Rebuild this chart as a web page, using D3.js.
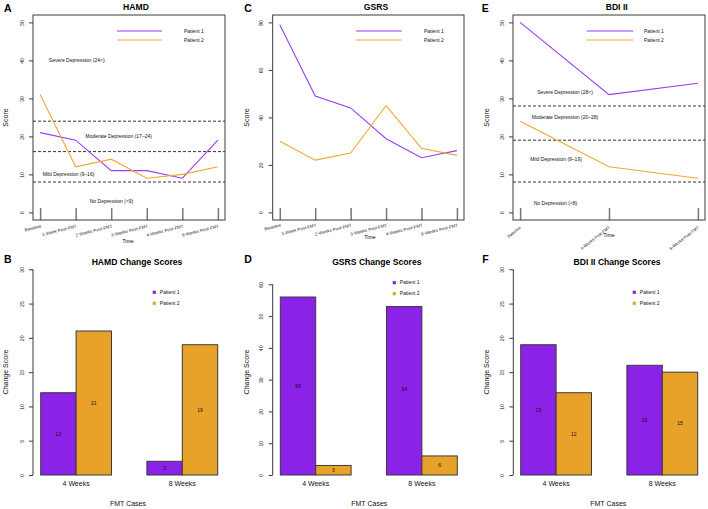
<!DOCTYPE html>
<html><head><meta charset="utf-8">
<script src="https://cdn.jsdelivr.net/npm/d3@7"></script>
<style>
html,body{margin:0;padding:0;background:#fff;}
svg{display:block;font-family:"Liberation Sans",Arial,Helvetica,sans-serif;}
</style></head>
<body><svg id="c" width="708" height="509"></svg>
<script>
// ---------- DATA ----------
const times6 = ["Baseline","1-Week Post-FMT","2-Weeks Post-FMT","3-Weeks Post-FMT","4-Weeks Post-FMT","8-Weeks Post-FMT"];
const times3 = ["Baseline","4-Weeks Post-FMT","8-Weeks Post-FMT"];
const patients = ["Patient 1","Patient 2"];

const hamdP1 = [21,19,11,11,9,19];
const hamdP2 = [31,12,14,9,10,12];
const hamdTicks = [0,10,20,30,40,50];
const hamdCutoffs = [24,16,8];
const hamdBands = ["Severe Depression (24<)","Moderate Depression (17\u201324)","Mild Depression (9\u201316)","No Depression (<9)"];
const hamdBandAt = [40,20,10,3];

const gsrsP1 = [79,49,44,31,23,26];
const gsrsP2 = [30,22,25,45,27,24];
const gsrsTicks = [0,20,40,60,80];

const bdiP1 = [50,31,34];
const bdiP2 = [24,12,9];
const bdiTicks = [0,10,20,30,40,50];
const bdiCutoffs = [28,19,8];
const bdiBands = ["Severe Depression (28<)","Moderate Depression (20\u201328)","Mild Depression (9\u201319)","No Depression (<8)"];
const bdiBandAt = [31.5,25,14,2.5];

const weeks = ["4 Weeks","8 Weeks"];
const hamdChangeP1 = [12,2];
const hamdChangeP2 = [21,19];
const gsrsChangeP1 = [56,53];
const gsrsChangeP2 = [3,6];
const gsrsChangeLabelP1 = [56,54];
const bdiChangeP1 = [19,16];
const bdiChangeP2 = [12,15];
const change30Ticks = [0,5,10,15,20,25,30];
const change60Ticks = [0,10,20,30,40,50,60];

// ---------- STYLE ----------
const lineCol = ["#9a3cf0","#f0a830"];
const barCol = ["#8b22e8","#e8a22a"];
const dark = "#3a3a3a";
const svg = d3.select("#c");

function styleYAxis(g, off){
  g.select(".domain").remove();
  g.selectAll(".tick line").attr("stroke", dark);
  g.selectAll(".tick text")
    .attr("x",0).attr("y",off).attr("dy",0)
    .attr("text-anchor","middle").attr("transform","rotate(-90)")
    .attr("font-size",5.2).attr("fill","#222");
}

function linePanel(o){
  const g = svg.append("g");
  const x = d3.scaleLinear().domain([-o.pad, o.cats.length-1+o.pad]).range([o.x0,o.x1]);
  const y = d3.scaleLinear().domain([0,o.ymax]).range([212.4, 212.4 - o.ymax*o.unit]);
  // y axis
  const ya = g.append("g").attr("transform",`translate(${o.x0},0)`)
    .call(d3.axisLeft(y).tickValues(o.ticks).tickSize(4).tickFormat(d3.format("d")));
  styleYAxis(ya,-9.4);
  // x axis: inward ticks
  const xa = g.append("g").attr("transform",`translate(0,220)`)
    .call(d3.axisBottom(x).tickValues(d3.range(o.cats.length)).tickSize(-12).tickFormat(i=>o.cats[i]));
  xa.select(".domain").remove();
  xa.selectAll(".tick line").attr("stroke","#777").attr("stroke-width",1.5);
  xa.selectAll(".tick text")
    .attr("x",0).attr("y",0).attr("dy",0)
    .attr("text-anchor","end")
    .attr("transform",`translate(0.8,${o.labY-220}) rotate(${o.rot})`)
    .attr("font-size",o.labFs).attr("fill","#222");
  // box
  g.append("rect").attr("x",o.x0).attr("y",15).attr("width",o.x1-o.x0).attr("height",205)
    .attr("fill","none").attr("stroke",dark).attr("stroke-width",1);
  // cutoffs
  if(o.cut){
    g.selectAll(".cut").data(o.cut).enter().append("line")
      .attr("x1",o.x0).attr("x2",o.x1).attr("y1",d=>y(d)).attr("y2",d=>y(d))
      .attr("stroke","#333").attr("stroke-width",1).attr("stroke-dasharray","3,2");
    g.selectAll(".band").data(o.bands).enter().append("text")
      .attr("x",(d,i)=>o.bandX[i]).attr("y",(d,i)=>y(o.bandAt[i])).attr("dy","0.35em")
      .attr("text-anchor","middle").attr("font-size",5).attr("fill","#111").text(d=>d);
  }
  // lines
  [o.p1,o.p2].forEach((s,k)=>{
    g.append("path").datum(s)
      .attr("d",d3.line().x((d,i)=>x(i)).y(d=>y(d)))
      .attr("fill","none").attr("stroke",lineCol[k]).attr("stroke-width",1.1);
  });
  // legend
  patients.forEach((p,k)=>{
    const ly = 31 + k*9;
    g.append("line").attr("x1",o.legX[0]).attr("x2",o.legX[1]).attr("y1",ly).attr("y2",ly)
      .attr("stroke",lineCol[k]).attr("stroke-width",1.2);
    g.append("text").attr("x",o.legX[2]).attr("y",ly).attr("dy","0.35em")
      .attr("font-size",5).attr("fill","#111").text(p);
  });
  // titles
  g.append("text").attr("x",o.titleX).attr("y",10).attr("text-anchor","middle")
    .attr("font-size",8.6).attr("font-weight","bold").text(o.title);
  g.append("text").attr("x",o.letterX).attr("y",11.5)
    .attr("font-size",10.5).attr("font-weight","bold").text(o.letter);
  g.append("text").attr("x",o.timeX).attr("y",o.timeY).attr("text-anchor","middle")
    .attr("font-size",5.3).attr("fill","#111").text("Time");
  g.append("text").attr("transform",`translate(${o.scoreX},117.5) rotate(-90)`)
    .attr("text-anchor","middle").attr("font-size",7).attr("fill","#111").text("Score");
}

linePanel({letter:"A",letterX:4,title:"HAMD",titleX:136,cats:times6,pad:0.2,x0:33,x1:225,
  ymax:50,unit:3.8,ticks:hamdTicks,p1:hamdP1,p2:hamdP2,cut:hamdCutoffs,bands:hamdBands,bandAt:hamdBandAt,
  bandX:[76.7,118.7,68.5,111.5],legX:[117,162,184],labY:227.5,rot:-14,labFs:4.4,
  timeX:128,timeY:243,scoreX:7.5});
linePanel({letter:"C",letterX:244.3,title:"GSRS",titleX:376,cats:times6,pad:0.2,x0:272.7,x1:464,
  ymax:80,unit:2.375,ticks:gsrsTicks,p1:gsrsP1,p2:gsrsP2,cut:null,
  legX:[356,401.7,424],labY:226.5,rot:-14,labFs:4.4,
  timeX:370,timeY:239,scoreX:248.5});
linePanel({letter:"E",letterX:481.7,title:"BDI II",titleX:616.7,cats:times3,pad:0.08,x0:513,x1:705,
  ymax:50,unit:3.8,ticks:bdiTicks,p1:bdiP1,p2:bdiP2,cut:bdiCutoffs,bands:bdiBands,bandAt:bdiBandAt,
  bandX:[565,565,556,555.5],legX:[586.7,633.3,644],labY:228,rot:-38,labFs:4.2,
  timeX:609,timeY:237,scoreX:488.5});

function barPanel(o){
  const g = svg.append("g");
  const y = d3.scaleLinear().domain([0,o.ymax]).range([475,o.yTop]);
  const gx = d3.scaleBand().domain(weeks).range([o.b0,o.b1]).paddingInner(1/3).paddingOuter(0);
  const px = d3.scaleBand().domain(patients).range([0,gx.bandwidth()]);
  const ya = g.append("g").attr("transform",`translate(${o.ax},0)`)
    .call(d3.axisLeft(y).tickValues(o.ticks).tickSize(4).tickFormat(d3.format("d")));
  ya.append("line").attr("x1",0).attr("x2",0).attr("y1",y(0)).attr("y2",y(o.ymax)).attr("stroke",dark);
  styleYAxis(ya,-9.4);
  const series = [o.p1,o.p2];
  weeks.forEach((w,i)=>{
    patients.forEach((p,k)=>{
      const v = series[k][i];
      g.append("rect").attr("x",gx(w)+px(p)).attr("y",y(v))
        .attr("width",px.bandwidth()).attr("height",y(0)-y(v))
        .attr("fill",barCol[k]).attr("stroke",dark).attr("stroke-width",1);
      const lv = o.labels[k][i];
      g.append("text").attr("x",gx(w)+px(p)+px.bandwidth()/2).attr("y",y(lv/2)).attr("dy","0.35em")
        .attr("text-anchor","middle").attr("font-size",5).attr("fill","#111").text(lv);
    });
  });
  const xa = g.append("g").attr("transform","translate(0,484)")
    .call(d3.axisBottom(gx).tickSize(0));
  xa.select(".domain").remove();
  xa.selectAll(".tick text").attr("y",0).attr("dy","0.35em").attr("font-size",7).attr("fill","#111");
  // legend
  patients.forEach((p,k)=>{
    const ly = o.legY + k*11;
    g.append("rect").attr("x",o.legX-1.6).attr("y",ly-1.6).attr("width",3.2).attr("height",3.2).attr("fill",barCol[k]);
    g.append("text").attr("x",o.legX+5.5).attr("y",ly).attr("dy","0.35em").attr("font-size",5).attr("fill","#111").text(p);
  });
  g.append("text").attr("x",o.titleX).attr("y",265).attr("text-anchor","middle")
    .attr("font-size",8.6).attr("font-weight","bold").text(o.title);
  g.append("text").attr("x",o.letterX).attr("y",263)
    .attr("font-size",10.5).attr("font-weight","bold").text(o.letter);
  g.append("text").attr("x",o.fmtX).attr("y",505.5).attr("text-anchor","middle")
    .attr("font-size",7).attr("fill","#111").text("FMT Cases");
  g.append("text").attr("transform",`translate(${o.scoreX},372) rotate(-90)`)
    .attr("text-anchor","middle").attr("font-size",7).attr("fill","#111").text("Change Score");
}

barPanel({letter:"B",letterX:4,title:"HAMD Change Scores",titleX:137,ymax:30,yTop:269.3,ticks:change30Ticks,
  ax:33,b0:40.7,b1:217.7,p1:hamdChangeP1,p2:hamdChangeP2,labels:[hamdChangeP1,hamdChangeP2],
  legX:154.3,legY:292.3,fmtX:128,scoreX:7.5});
barPanel({letter:"D",letterX:244.3,title:"GSRS Change Scores",titleX:376.8,ymax:60,yTop:284.3,ticks:change60Ticks,
  ax:272.7,b0:280.3,b1:457.3,p1:gsrsChangeP1,p2:gsrsChangeP2,labels:[gsrsChangeLabelP1,gsrsChangeP2],
  legX:394.3,legY:282.7,fmtX:369.3,scoreX:248.5});
barPanel({letter:"F",letterX:482.3,title:"BDI II Change Scores",titleX:617,ymax:30,yTop:269.3,ticks:change30Ticks,
  ax:513.3,b0:520.7,b1:697.7,p1:bdiChangeP1,p2:bdiChangeP2,labels:[bdiChangeP1,bdiChangeP2],
  legX:634.3,legY:292.3,fmtX:608.3,scoreX:488.5});
</script></body></html>
